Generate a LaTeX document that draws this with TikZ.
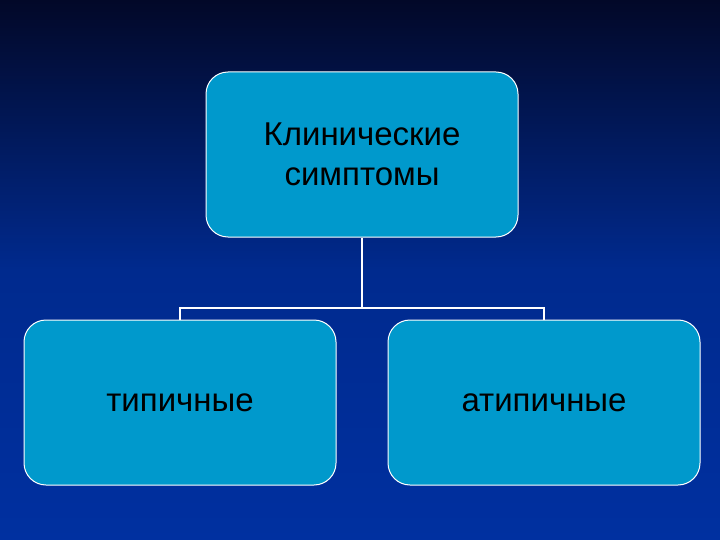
\documentclass[tikz,border=0pt]{standalone}
\usepackage{fontspec}
\setmainfont{Liberation Sans}
\definecolor{boxc}{RGB}{0,153,204}
\definecolor{bgtop}{RGB}{2,8,40}
\definecolor{bgbot}{RGB}{0,48,160}
\begin{document}
\begin{tikzpicture}[x=1pt,y=-1pt,
  box/.style={draw=white,line width=1pt,fill=boxc,rounded corners=22pt,minimum width=312pt,minimum height=165pt,text=black,font=\fontsize{33}{40}\selectfont,align=center},
  conn/.style={draw=white,line width=1.5pt}]
\shade[top color=bgtop,bottom color=bgbot,middle color=bgbot!85!bgtop] (0,0) rectangle (720,540);
\useasboundingbox (0,0) rectangle (720,540);
\node[box] (top) at (362,154.5) {};
\node[text=black,font=\fontsize{33}{40}\selectfont,align=center] (tt) at (362,154) {Клинические\\симптомы};
\node[box] (l) at (180,402.5) {типичные};
\node[box] (r) at (544,402.5) {атипичные};
\coordinate (m) at (362,308);
\draw[conn] (top.south) -- (m);
\draw[conn] (l.north) -- (l.north |- m) -- (r.north |- m) -- (r.north);
\end{tikzpicture}
\end{document}
